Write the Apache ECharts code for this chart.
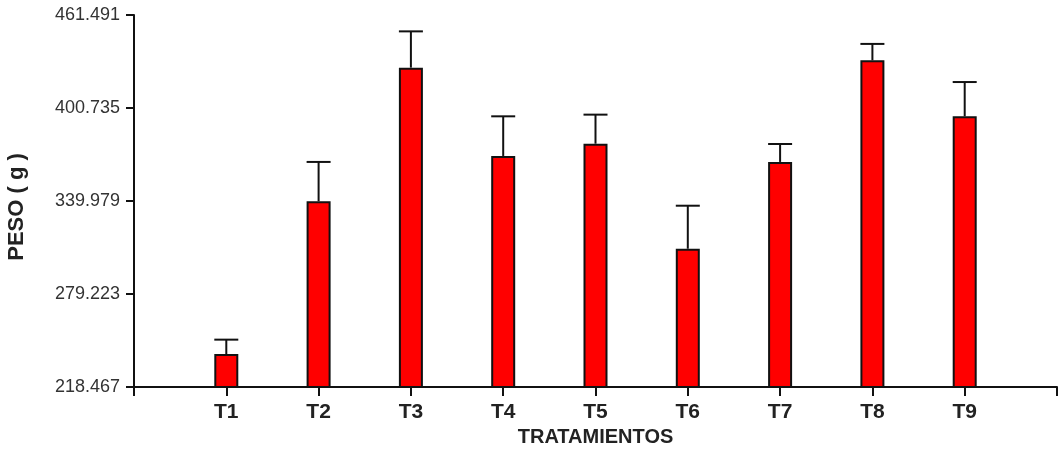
<!DOCTYPE html>
<html>
<head>
<meta charset="utf-8">
<script src="https://cdn.jsdelivr.net/npm/echarts@6/dist/echarts.min.js"></script>
<style>
  html, body { margin: 0; padding: 0; background: #fff; }
  #chart { width: 1059px; height: 456px; }
</style>
</head>
<body>
<div id="chart"></div>
<script>
// ---- data ----
var categories = ['T1', 'T2', 'T3', 'T4', 'T5', 'T6', 'T7', 'T8', 'T9'];
var means      = [240.0, 339.8, 427.1, 369.4, 377.4, 308.8, 365.5, 431.9, 395.3];
var errors     = [9.4, 25.7, 23.7, 25.9, 19.0, 28.1, 11.7, 10.7, 22.4];
var yTicks     = [218.467, 279.223, 339.979, 400.735, 461.491];
var yName = 'PESO ( g )';
var xName = 'TRATAMIENTOS';

// axis with an empty slot at each end so the categories sit on 1..9 of 0..10
var axisCats = [''].concat(categories).concat(['']);
var barData = ['-'].concat(means).concat(['-']);
var errData = categories.map(function (c, i) {
  return [i + 1, means[i], means[i] + errors[i]];
});

var FONT = 'Arial, "Liberation Sans", sans-serif';

var chart = echarts.init(document.getElementById('chart'), null, { renderer: 'canvas' });
chart.setOption({
  animation: false,
  backgroundColor: '#ffffff',
  grid: {
    left: 134, right: 2, top: 15, bottom: 69,
    containLabel: false,
    outerBoundsMode: 'none'
  },
  xAxis: {
    type: 'category',
    data: axisCats,
    boundaryGap: false,
    name: xName,
    nameLocation: 'middle',
    nameGap: 28,
    nameTextStyle: { fontFamily: FONT, fontSize: 20, fontWeight: 'bold', color: '#222' },
    axisLine: { show: true, lineStyle: { color: '#111', width: 2 } },
    axisTick: { show: true, interval: 0, length: 9, lineStyle: { color: '#111', width: 2 } },
    axisLabel: { interval: 0, margin: 15, fontFamily: FONT, fontSize: 21, fontWeight: 'bold', color: '#222' },
    splitLine: { show: false }
  },
  yAxis: {
    type: 'value',
    min: yTicks[0],
    max: yTicks[yTicks.length - 1],
    name: yName,
    nameLocation: 'middle',
    nameGap: 106,
    nameTextStyle: { fontFamily: FONT, fontSize: 22, fontWeight: 'bold', color: '#222', padding: [0, 12, 0, 0] },
    axisLine: { show: true, lineStyle: { color: '#111', width: 2 } },
    axisTick: { show: true, length: 8, customValues: yTicks, lineStyle: { color: '#111', width: 2 } },
    axisLabel: {
      customValues: yTicks,
      margin: 14,
      fontFamily: FONT, fontSize: 18, color: '#333',
      formatter: function (v) { return v.toFixed(3); }
    },
    splitLine: { show: false }
  },
  series: [
    {
      type: 'bar',
      data: barData,
      barWidth: 24,
      itemStyle: { color: '#ff0000', borderColor: '#111', borderWidth: 2 },
      z: 2
    },
    {
      type: 'custom',
      data: errData,
      z: 3,
      renderItem: function (params, api) {
        var base = api.coord([api.value(0), api.value(1)]);
        var top = api.coord([api.value(0), api.value(2)]);
        var half = 12;
        var style = { stroke: '#111', lineWidth: 2 };
        return {
          type: 'group',
          children: [
            { type: 'line', shape: { x1: base[0], y1: base[1], x2: top[0], y2: top[1] }, style: style },
            { type: 'line', shape: { x1: top[0] - half, y1: top[1], x2: top[0] + half, y2: top[1] }, style: style }
          ]
        };
      }
    }
  ]
});
</script>
</body>
</html>
